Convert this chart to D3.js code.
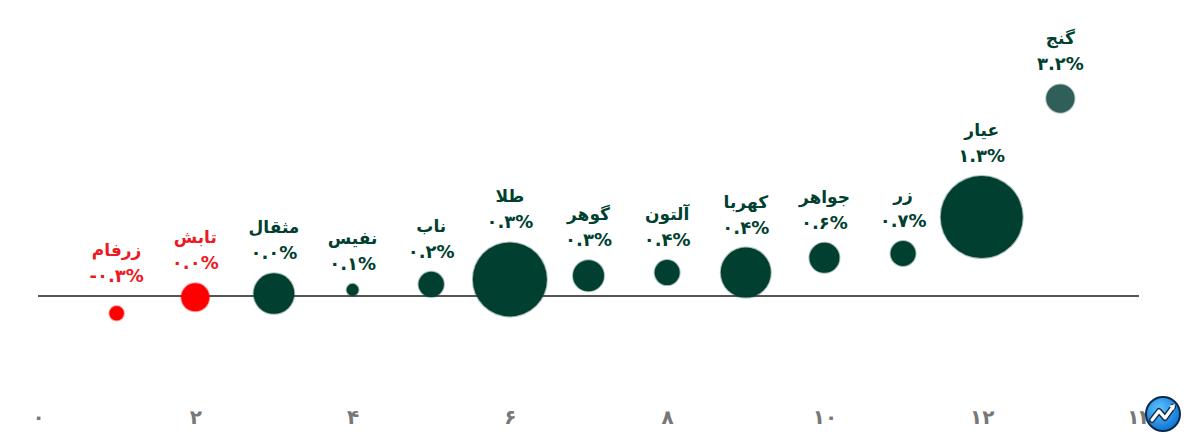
<!DOCTYPE html>
<html>
<head>
<meta charset="utf-8">
<script src="https://cdn.jsdelivr.net/npm/d3@7"></script>
<style>
  html, body { margin: 0; padding: 0; background: #fff; }
  svg { display: block; }
</style>
</head>
<body>
<svg id="chart" width="1194" height="445"></svg>
<script>
// ---- data ----
const funds   = ["زرفام","تابش","مثقال","نفیس","ناب","طلا","گوهر","آلتون","کهربا","جواهر","زر","عیار","گنج"];
const xPos    = [1,2,3,4,5,6,7,8,9,10,11,12,13];
const returns = [-0.28,-0.02,0.04,0.1,0.19,0.27,0.33,0.38,0.38,0.62,0.69,1.28,3.2];
const sizes   = [53,196,412,36,160,1369,240,156,625,225,156,1681,200];
const highlighted = ["گنج"];
const tickValues = [0,2,4,6,8,10,12,14];
const tickLabels = ["۰","۲","۴","۶","۸","۱۰","۱۲","۱۴"];

// ---- helpers ----
const faDigits = "۰۱۲۳۴۵۶۷۸۹";
function toFa(s){ return s.replace(/[0-9]/g, c => faDigits[+c]); }
function fmtPct(v){
  let s = v.toFixed(1);
  if (+s === 0) s = (0).toFixed(1);
  return toFa(s) + "%";
}

const svg = d3.select("#chart");

const x = d3.scaleLinear().domain([0, 14]).range([38, 1139]);
const y = d3.scaleLinear().domain([-1.8, 4.5]).range([407.1, 18.4]);
const r = d3.scaleSqrt().domain([0, d3.max(sizes)]).range([0, 41]);

const GREEN = "#013f30", TEAL = "#2f5f58", RED = "#ff0000", RED_TXT = "#ec1b23";

const data = funds.map((name, i) => ({
  name, x: xPos[i], ret: returns[i], size: sizes[i]
}));
function fill(d){ return d.ret < 0 ? RED : (highlighted.includes(d.name) ? TEAL : GREEN); }
function txtColor(d){ return d.ret < 0 ? RED_TXT : GREEN; }

// zero line
svg.append("line")
  .attr("x1", x(0)).attr("x2", x(14))
  .attr("y1", y(0)).attr("y2", y(0))
  .attr("stroke", "#555").attr("stroke-width", 2);

// x axis (labels only)
const axis = d3.axisBottom(x)
  .tickValues(tickValues)
  .tickFormat((d, i) => tickLabels[i])
  .tickSize(0);
const gAxis = svg.append("g").attr("transform", "translate(0,424)").call(axis);
gAxis.select(".domain").remove();
gAxis.selectAll("text")
  .attr("font-family", "DejaVu Sans, sans-serif")
  .attr("font-size", 20)
  .attr("font-weight", "bold")
  .attr("fill", "#777")
  .attr("y", 0)
  .attr("dy", 0);

// bubbles
svg.append("g").selectAll("circle")
  .data(data).join("circle")
  .attr("cx", d => x(d.x))
  .attr("cy", d => y(d.ret))
  .attr("r", d => r(d.size))
  .attr("fill", fill)
  .attr("stroke", fill)
  .attr("stroke-opacity", 0.35)
  .attr("stroke-width", 2);

// labels
const gl = svg.append("g").selectAll("g")
  .data(data).join("g")
  .attr("transform", d => {
    const top = Math.min(y(d.ret) - r(d.size), y(0));
    return `translate(${x(d.x)},${top - 14})`;
  });
gl.append("text")
  .attr("text-anchor", "middle")
  .attr("direction", "ltr")
  .attr("font-family", "DejaVu Sans, sans-serif")
  .attr("font-size", 18)
  .attr("font-weight", "bold")
  .attr("fill", txtColor)
  .text(d => fmtPct(d.ret));
gl.append("text")
  .attr("text-anchor", "middle")
  .attr("y", -26)
  .attr("font-family", "DejaVu Sans, sans-serif")
  .attr("font-size", 17)
  .attr("font-weight", "bold")
  .attr("fill", txtColor)
  .text(d => d.name);

// logo
const logo = svg.append("g").attr("transform", "translate(1163,414)");
const grad = svg.append("defs").append("radialGradient").attr("id", "lg")
  .attr("cx", "40%").attr("cy", "35%").attr("r", "70%");
grad.append("stop").attr("offset", "0%").attr("stop-color", "#5cc3ff");
grad.append("stop").attr("offset", "100%").attr("stop-color", "#0a6fd0");
logo.append("circle").attr("r", 17).attr("fill", "url(#lg)")
  .attr("stroke", "#0c2a4a").attr("stroke-width", 2);
logo.append("path")
  .attr("d", "M-11,6 L-4,-3 L2,4 L10,-7")
  .attr("fill", "none").attr("stroke", "#0c2a4a").attr("stroke-width", 6)
  .attr("stroke-linejoin", "round").attr("stroke-linecap", "round");
logo.append("path")
  .attr("d", "M-11,6 L-4,-3 L2,4 L10,-7")
  .attr("fill", "none").attr("stroke", "#fff").attr("stroke-width", 3.2)
  .attr("stroke-linejoin", "round").attr("stroke-linecap", "round");
logo.append("path")
  .attr("d", "M6,-8 L12,-10 L11,-4 Z")
  .attr("fill", "#fff");
</script>
</body>
</html>
